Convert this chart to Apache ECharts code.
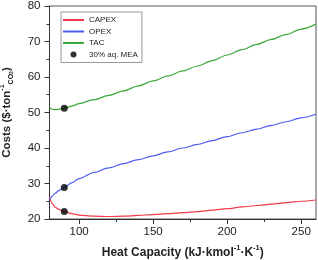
<!DOCTYPE html>
<html><head><meta charset="utf-8">
<script src="https://cdn.jsdelivr.net/npm/echarts@6/dist/echarts.min.js"></script>
<style>html,body{margin:0;padding:0;background:#fff}#c{width:318px;height:260px}</style>
</head><body><div id="c"></div>
<script>
const heatCapacity = [80,81,82,84,86,88,90,95,100,110,120,130,140,150,160,170,180,190,200,210,220,230,240,250,260];
const capex = [26.3,25.0,24.2,23.3,22.8,22.4,22.1,21.5,21.1,20.8,20.7,20.8,21.0,21.25,21.5,21.8,22.1,22.5,22.9,23.4,23.8,24.2,24.6,25.0,25.35];
const opex  = [25.3,26.0,26.5,27.3,27.9,28.4,28.9,30.2,31.4,33.1,34.4,35.6,36.7,37.8,38.9,40.0,41.0,42.1,43.2,44.3,45.3,46.4,47.4,48.5,49.5];
const tac   = [51.6,51.1,50.9,50.8,50.9,51.0,51.2,51.8,52.5,53.6,54.8,56.1,57.5,58.9,60.3,61.7,63.1,64.6,66.2,67.7,69.2,70.6,72.0,73.5,74.9];
const meaX = 90;
const meaValues = [22.1, 28.9, 51.2];
const xMajorTicks = [100,150,200,250];
const xMinorTicks = [125,175,225];

const font = '"Liberation Sans", Arial, sans-serif';
const zip = (xs, ys) => xs.map((x, i) => [x, ys[i]]);
const chart = echarts.init(document.getElementById('c'), null, {renderer: 'canvas'});
const axisCol = '#333';
const hideSym = {opacity: 0};
chart.setOption({
  animation: false,
  textStyle: {fontFamily: font},
  grid: {left: 49.5, right: 2, top: 6, bottom: 41, show: true, borderColor: '#555', borderWidth: 1, containLabel: false, outerBoundsMode: 'none'},
  legend: {
    orient: 'vertical', left: 61, top: 12,
    itemWidth: 21, itemHeight: 6, itemGap: 1.5,
    padding: [3, 4, 3, 1],
    borderColor: '#999', borderWidth: 1,
    textStyle: {fontSize: 8, lineHeight: 10, color: '#222', fontFamily: font},
    data: [
      {name: 'CAPEX', itemStyle: hideSym}, {name: 'OPEX', itemStyle: hideSym}, {name: 'TAC', itemStyle: hideSym},
      {name: '30% aq. MEA', icon: 'circle'}
    ]
  },
  xAxis: [{
    type: 'value', min: 80, max: 260,
    name: '{n|Heat Capacity (kJ·kmol}{s|-1}{n|·K}{s|-1}{n|)}',
    nameLocation: 'middle', nameGap: 25,
    nameTextStyle: {rich: {
      n: {fontSize: 12, fontWeight: 'bold', color: '#222', fontFamily: font, lineHeight: 15, verticalAlign: 'bottom'},
      s: {fontSize: 7.5, fontWeight: 'bold', color: '#222', fontFamily: font, lineHeight: 15, verticalAlign: 'top'}
    }},
    axisLine: {show: true, lineStyle: {color: axisCol, width: 1}},
    axisTick: {show: true, length: 5, lineStyle: {color: axisCol}, customValues: xMajorTicks},
    axisLabel: {fontSize: 11.5, color: '#222', margin: 7, customValues: xMajorTicks},
    splitLine: {show: false}
  }, {
    type: 'value', min: 80, max: 260, position: 'bottom',
    axisLine: {show: false},
    axisTick: {show: true, length: 3, lineStyle: {color: axisCol}, customValues: xMinorTicks},
    axisLabel: {show: false},
    splitLine: {show: false}
  }],
  yAxis: {
    type: 'value', min: 20, max: 80, interval: 10,
    name: '{n|Costs ($·ton}{s|-1}{b|CO}{t|2}{n|)}',
    nameLocation: 'middle', nameGap: 35,
    nameTextStyle: {rich: {
      n: {fontSize: 11.5, fontWeight: 'bold', color: '#222', fontFamily: font, lineHeight: 16, verticalAlign: 'middle'},
      s: {fontSize: 7, fontWeight: 'bold', color: '#222', fontFamily: font, lineHeight: 16, verticalAlign: 'top'},
      b: {fontSize: 7, fontWeight: 'bold', color: '#222', fontFamily: font, lineHeight: 16, verticalAlign: 'bottom'},
      t: {fontSize: 5, fontWeight: 'bold', color: '#222', fontFamily: font, lineHeight: 14, verticalAlign: 'bottom'}
    }},
    axisLine: {show: true, lineStyle: {color: axisCol, width: 1}},
    axisTick: {show: true, length: 5, lineStyle: {color: axisCol}},
    minorTick: {show: true, splitNumber: 2, length: 3, lineStyle: {color: axisCol}},
    axisLabel: {fontSize: 11.5, color: '#222', margin: 9},
    splitLine: {show: false}
  },
  series: [
    {name: 'CAPEX', type: 'line', symbol: 'none', smooth: 0.3, smoothMonotone: 'x', data: zip(heatCapacity, capex), lineStyle: {color: '#f23a48', width: 1.2}, itemStyle: {color: '#f23a48'}},
    {name: 'OPEX', type: 'line', symbol: 'none', smooth: 0.3, smoothMonotone: 'x', data: zip(heatCapacity, opex), lineStyle: {color: '#4a5cf2', width: 1.2}, itemStyle: {color: '#4a5cf2'}},
    {name: 'TAC', type: 'line', symbol: 'none', smooth: 0.3, smoothMonotone: 'x', data: zip(heatCapacity, tac), lineStyle: {color: '#3aa83a', width: 1.2}, itemStyle: {color: '#3aa83a'}},
    {name: '30% aq. MEA', type: 'scatter', symbol: 'circle', symbolSize: 7, z: 5, data: meaValues.map(v => [meaX, v]), itemStyle: {color: '#000'}}
  ]
});
</script></body></html>
